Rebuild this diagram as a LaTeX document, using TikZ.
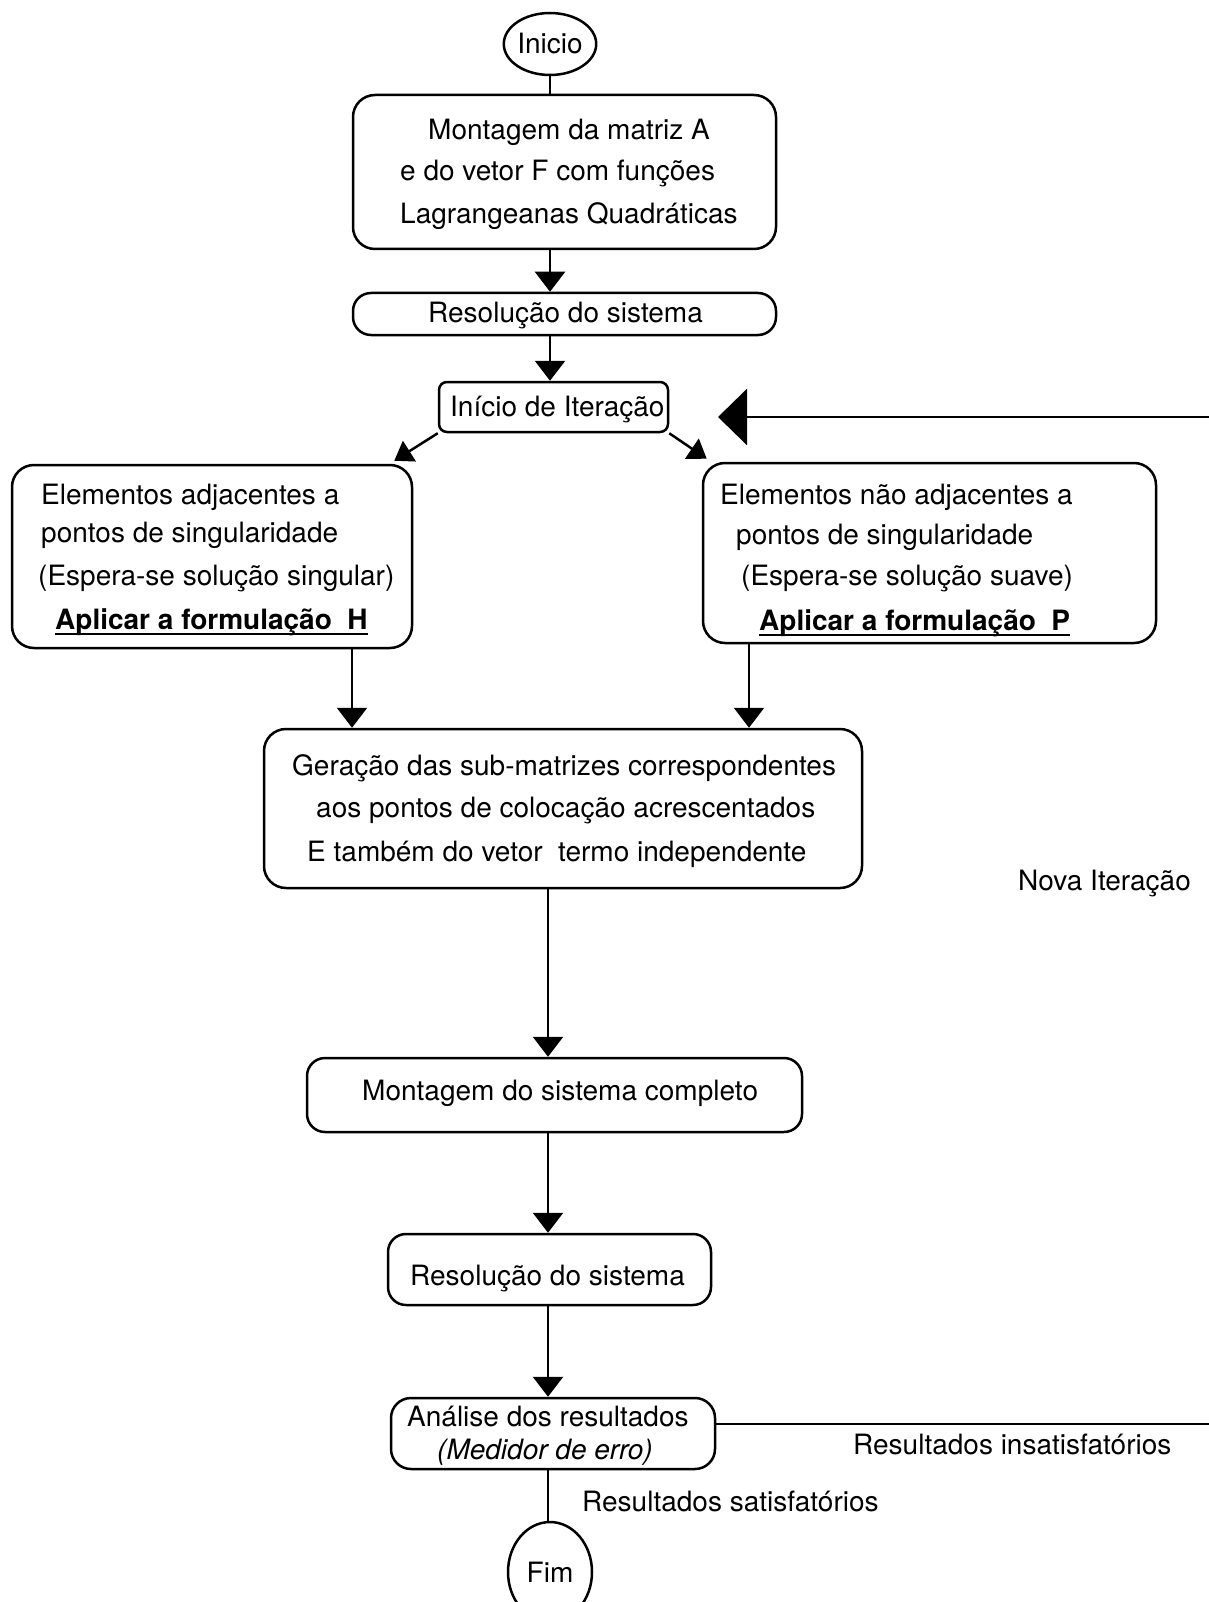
\documentclass[tikz,border=0pt]{standalone}
\usepackage{fontspec}
\setmainfont{TeX Gyre Heros}
\usetikzlibrary{arrows.meta,shapes.geometric,calc}
\begin{document}
\begin{tikzpicture}[x=1pt,y=-1pt,
  box/.style={draw, line width=2.5pt, rounded corners=20pt, inner sep=0pt},
  term/.style={draw, ellipse, line width=2.5pt, inner sep=0pt, font=\fontsize{28}{34}\selectfont},
  txt/.style={font=\fontsize{28}{34}\selectfont, inner sep=0pt, anchor=base west},
  ln/.style={line width=2.5pt},
  uline/.style={line width=2.2pt},
  arr/.style={line width=2.5pt, -{Triangle[width=30pt,length=20pt]}},
  darr/.style={line width=2.5pt, -{Triangle[width=24pt,length=18pt]}},
  bigarr/.style={line width=2.5pt, -{Triangle[width=56pt,length=29pt]}}]
\useasboundingbox (0,0) rectangle (1208,1602);
\fill[white] (0,0) rectangle (1208,1602);

% shapes
\node[term, minimum width=80, minimum height=62] (ini) at (550,44) {Inicio};
\node[box, rounded corners=22pt, minimum width=423, minimum height=154] (b1) at (564.5,172) {};
\node[box, rounded corners=18pt, minimum width=423, minimum height=42] (res1) at (564.5,314) {};
\node[box, rounded corners=8pt, minimum width=229, minimum height=50] (ii) at (553.5,407) {};
\node[box, rounded corners=22pt, minimum width=400, minimum height=183] (lb) at (212,556.5) {};
\node[box, rounded corners=22pt, minimum width=453, minimum height=180] (rb) at (929.5,553) {};
\node[box, rounded corners=22pt, minimum width=598, minimum height=159] (ger) at (563,808.5) {};
\node[box, rounded corners=18pt, minimum width=495, minimum height=74] (mc) at (554.5,1095) {};
\node[box, rounded corners=18pt, minimum width=323, minimum height=71] (res2) at (549.5,1269.5) {};
\node[box, rounded corners=20pt, minimum width=324, minimum height=71] (an) at (553,1433.5) {};
\node[term, minimum width=84, minimum height=100] (fim) at (550,1572) {Fim};

% texts
\node[txt] (t1a) at (428,140) {Montagem da matriz A};
\node[txt] (t1b) at (400,181) {e do vetor F com funções};
\node[txt] (t1c) at (400,224) {Lagrangeanas Quadráticas};
\node[txt] (t2) at (428,323) {Resolução do sistema};
\node[txt] (t3) at (450,416) {Início de Iteração};
\node[txt] (tla) at (41,504) {Elementos adjacentes a};
\node[txt] (tlb) at (41,542) {pontos de singularidade};
\node[txt] (tlc) at (38,585) {(Espera-se solução singular)};
\node[txt] (tld) at (55,629) {\textbf{Aplicar a formulação~~H}};
\node[txt] (tra) at (720,504) {Elementos não adjacentes a};
\node[txt] (trb) at (736,544) {pontos de singularidade};
\node[txt] (trc) at (741,585) {(Espera-se solução suave)};
\node[txt] (trd) at (759,630) {\textbf{Aplicar a formulação~~P}};
\node[txt] (tga) at (292,775) {Geração das sub-matrizes correspondentes};
\node[txt] (tgb) at (316,817) {aos pontos de colocação acrescentados};
\node[txt] (tgc) at (307,861) {E também do vetor~~termo independente};
\node[txt] (tni) at (1018,890) {Nova Iteração};
\node[txt] (tmc) at (362,1100) {Montagem do sistema completo};
\node[txt] (tr2) at (410,1285) {Resolução do sistema};
\node[txt] (tan1) at (407,1426) {Análise dos resultados};
\node[txt] (tan2) at (437,1459) {\itshape (Medidor de erro)};
\node[txt] (tri) at (853,1454) {Resultados insatisfatórios};
\node[txt] (trs) at (582,1511) {Resultados satisfatórios};

% underlines
\draw[uline] ([yshift=-5pt]tld.base west) -- ([yshift=-5pt]tld.base east);
\draw[uline] ([yshift=-5pt]trd.base west) -- ([yshift=-5pt]trd.base east);

% coordinates
\coordinate (xl) at (352,0);
\coordinate (xr) at (749,0);
\coordinate (ax) at (548,0);
\coordinate (edgeT) at (1214,417);
\coordinate (tipT) at (718,417);
\coordinate (edgeB) at (1214,1424);

% connectors
\draw[ln] (ini.south) -- (b1.north -| ini.south);
\draw[arr] (b1.south -| ini) -- (res1.north -| ini);
\draw[arr] (res1.south -| ini) -- (ii.north -| ini);
\draw[darr] (ii.south west) -- ($(lb.north east)+(-19,-3)$);
\draw[darr] (ii.south east) -- ($(rb.north west)+(5,-3)$);
\draw[bigarr] (edgeT) -- (tipT);
\draw[arr] (lb.south -| xl) -- (ger.north -| xl);
\draw[arr] (rb.south -| xr) -- (ger.north -| xr);
\draw[arr] (ger.south -| ax) -- (mc.north -| ax);
\draw[arr] (mc.south -| ax) -- (res2.north -| ax);
\draw[arr] (res2.south -| ax) -- (an.north -| ax);
\draw[ln] (an.south -| ax) -- (fim.north -| ax);
\draw[ln] (an.north east |- edgeB) -- (edgeB);
\end{tikzpicture}
\end{document}
